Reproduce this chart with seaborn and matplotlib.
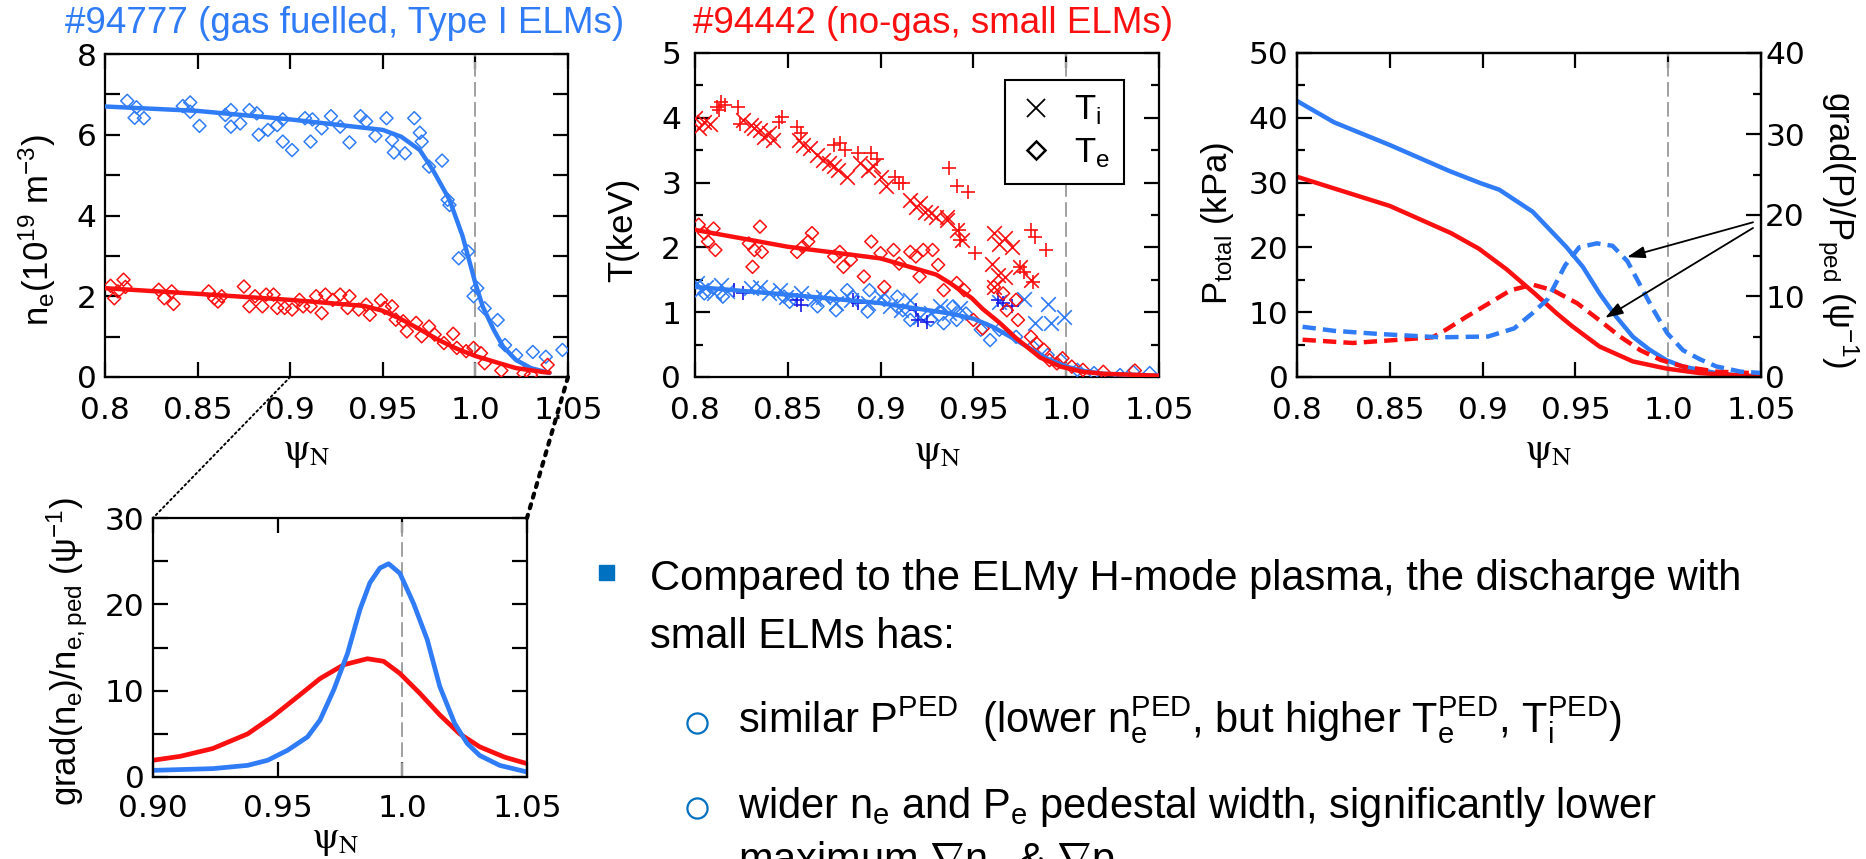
"""
Pedestal comparison: gas fuelled Type I ELMs (#94777) vs no-gas small ELMs (#94442)
Four panels (n_e, T, P / grad P, zoomed grad n_e) plus the slide's bullet text.
"""

import matplotlib
matplotlib.use("Agg")
import matplotlib.pyplot as plt
from matplotlib import font_manager
from matplotlib.lines import Line2D
from matplotlib.patches import ConnectionPatch
from matplotlib.ticker import FixedLocator
import seaborn as sns

# ---------- data ----------
# panel 1: electron density (10^19 m^-3)
NE_GAS_FIT_X = [0.80, 0.85, 0.90, 0.95, 0.96, 0.97, 0.977, 0.986, 0.993, 1.000,
                1.004, 1.010, 1.015, 1.022, 1.030, 1.040]
NE_GAS_FIT_Y = [6.70, 6.59, 6.38, 6.12, 5.95, 5.62, 5.13, 4.39, 3.50, 2.32,
                1.74, 1.16, 0.75, 0.42, 0.22, 0.10]
NE_NOGAS_FIT_X = [0.80, 0.85, 0.90, 0.94, 0.95, 0.96, 0.97, 0.98, 0.99, 1.00,
                  1.013, 1.022, 1.037, 1.040]
NE_NOGAS_FIT_Y = [2.20, 2.06, 1.91, 1.76, 1.64, 1.43, 1.18, 0.92, 0.70, 0.52,
                  0.34, 0.22, 0.12, 0.11]
NE_GAS_X = [0.812, 0.816, 0.817, 0.821, 0.842, 0.846, 0.846, 0.851, 0.865, 0.868,
            0.868, 0.873, 0.878, 0.882, 0.883, 0.888, 0.893, 0.896, 0.896, 0.901,
            0.908, 0.912, 0.911, 0.917, 0.922, 0.927, 0.932, 0.938, 0.941, 0.946,
            0.952, 0.955, 0.956, 0.962, 0.967, 0.970, 0.971, 0.975, 0.982, 0.985,
            0.986, 0.991, 0.996, 0.999, 1.001, 1.005, 1.012, 1.016, 1.022, 1.031,
            1.038, 1.047]
NE_GAS_Y = [6.84, 6.42, 6.68, 6.41, 6.71, 6.80, 6.57, 6.22, 6.49, 6.61,
            6.20, 6.28, 6.61, 6.53, 6.00, 6.12, 6.24, 6.38, 5.83, 5.62,
            6.41, 6.38, 5.83, 6.16, 6.46, 6.20, 5.81, 6.46, 6.33, 5.97,
            6.41, 5.87, 5.56, 5.54, 6.41, 6.05, 5.83, 5.21, 5.36, 4.39,
            4.26, 2.94, 3.11, 2.00, 2.20, 1.70, 1.41, 0.79, 0.54, 0.62,
            0.50, 0.67]
NE_NOGAS_X = [0.803, 0.805, 0.807, 0.810, 0.811, 0.829, 0.832, 0.836, 0.837, 0.856,
              0.859, 0.861, 0.863, 0.875, 0.878, 0.881, 0.885, 0.887, 0.891, 0.893,
              0.897, 0.901, 0.905, 0.907, 0.911, 0.914, 0.917, 0.919, 0.923, 0.927,
              0.931, 0.932, 0.937, 0.941, 0.943, 0.949, 0.951, 0.955, 0.957, 0.961,
              0.963, 0.968, 0.971, 0.975, 0.978, 0.983, 0.988, 0.990, 0.995, 0.999,
              1.003, 1.005, 1.014, 1.026, 1.030, 1.039]
NE_NOGAS_Y = [2.26, 1.95, 2.12, 2.41, 2.23, 2.16, 1.95, 2.12, 1.81, 2.12,
              1.95, 1.87, 2.00, 2.24, 1.75, 2.00, 1.75, 2.04, 2.04, 1.71,
              1.71, 1.67, 1.91, 1.75, 1.75, 2.00, 1.58, 2.04, 1.91, 2.04,
              1.71, 2.00, 1.67, 1.79, 1.54, 1.90, 1.71, 1.75, 1.42, 1.38,
              1.13, 1.34, 1.01, 1.25, 1.05, 0.84, 1.07, 0.72, 0.64, 0.72,
              0.59, 0.34, 0.16, 0.09, 0.05, 0.30]

# panel 2: temperatures (keV)
TE_GAS_FIT_X = [0.80, 0.85, 0.90, 0.9374, 0.95, 0.96, 0.97, 0.98, 0.99, 1.00,
                1.01, 1.02, 1.05]
TE_GAS_FIT_Y = [1.39, 1.27, 1.14, 0.98, 0.90, 0.78, 0.62, 0.45, 0.28, 0.16,
                0.09, 0.05, 0.02]
TE_NOGAS_FIT_X = [0.80, 0.85, 0.90, 0.93, 0.9374, 0.949, 0.955, 0.964, 0.973, 0.986,
                  0.997, 1.009, 1.020, 1.050]
TE_NOGAS_FIT_Y = [2.27, 2.01, 1.83, 1.58, 1.45, 1.22, 1.05, 0.84, 0.60, 0.30,
                  0.16, 0.08, 0.05, 0.02]
TI_NOGAS_X = [0.800, 0.802, 0.805, 0.808, 0.826, 0.830, 0.832, 0.835, 0.837, 0.840,
              0.842, 0.856, 0.858, 0.862, 0.866, 0.869, 0.872, 0.875, 0.877, 0.882,
              0.889, 0.893, 0.896, 0.900, 0.903, 0.916, 0.919, 0.921, 0.924, 0.927,
              0.930, 0.936, 0.936, 0.941, 0.944, 0.961, 0.964, 0.967, 0.971, 0.960,
              0.963, 0.961, 0.967, 0.975, 0.981]
TI_NOGAS_Y = [3.99, 3.84, 3.94, 3.90, 3.97, 3.89, 3.84, 3.81, 3.71, 3.76,
              3.66, 3.66, 3.58, 3.53, 3.43, 3.35, 3.30, 3.25, 3.19, 3.09,
              3.30, 3.19, 3.25, 3.09, 2.94, 2.73, 2.63, 2.68, 2.55, 2.53,
              2.47, 2.42, 2.47, 2.27, 2.11, 2.22, 2.06, 2.14, 2.01, 1.75,
              1.57, 1.39, 1.55, 1.70, 1.50]
TI2_NOGAS_X = [0.812, 0.814, 0.813, 0.816, 0.823, 0.824, 0.845, 0.847, 0.855, 0.857,
               0.875, 0.878, 0.881, 0.888, 0.895, 0.898, 0.908, 0.910, 0.912, 0.937,
               0.941, 0.947, 0.942, 0.943, 0.951, 0.981, 0.983, 0.989, 0.975, 0.977,
               0.982]
TI2_NOGAS_Y = [4.17, 4.25, 4.12, 4.20, 4.17, 3.91, 3.94, 4.02, 3.86, 3.76,
               3.58, 3.61, 3.50, 3.45, 3.45, 3.37, 3.09, 2.99, 2.99, 3.22,
               2.94, 2.86, 2.27, 2.11, 1.91, 2.27, 2.16, 1.96, 1.70, 1.62,
               1.47]
TE_NOGAS_X = [0.802, 0.805, 0.810, 0.807, 0.811, 0.829, 0.832, 0.835, 0.836, 0.831,
              0.855, 0.858, 0.861, 0.863, 0.875, 0.878, 0.880, 0.884, 0.891, 0.895,
              0.900, 0.902, 0.907, 0.910, 0.916, 0.919, 0.921, 0.923, 0.928, 0.931,
              0.934, 0.941, 0.945, 0.950, 0.955, 0.961, 0.966, 0.973, 0.974, 0.968,
              0.981, 0.984, 0.988, 0.991, 0.995, 0.998, 1.003, 1.009, 1.020, 1.037]
TE_NOGAS_Y = [2.35, 2.22, 2.29, 2.09, 1.96, 2.06, 1.96, 2.32, 1.93, 1.70,
              1.93, 2.01, 2.09, 2.22, 1.86, 1.93, 1.70, 1.81, 1.55, 2.09,
              1.91, 1.39, 1.96, 1.75, 1.93, 1.86, 1.55, 1.96, 1.96, 1.73,
              1.34, 1.45, 1.34, 0.88, 0.75, 1.39, 1.29, 1.19, 0.88, 1.03,
              0.62, 0.52, 0.42, 0.26, 0.21, 0.29, 0.16, 0.11, 0.08, 0.10]
TI_GAS_X = [0.801, 0.803, 0.806, 0.810, 0.814, 0.817, 0.830, 0.835, 0.840, 0.846,
            0.849, 0.857, 0.864, 0.869, 0.876, 0.884, 0.893, 0.900, 0.905, 0.911,
            0.916, 0.921, 0.927, 0.932, 0.937, 0.943, 0.964, 0.977, 0.983, 0.990,
            0.992, 0.999]
TI_GAS_Y = [1.45, 1.34, 1.39, 1.29, 1.42, 1.32, 1.37, 1.39, 1.29, 1.34,
            1.24, 1.29, 1.21, 1.24, 1.14, 1.19, 1.14, 1.24, 1.09, 1.03,
            1.19, 0.93, 0.98, 1.09, 0.98, 1.06, 1.16, 1.21, 0.83, 1.13,
            0.83, 0.93]
TE_GAS_X = [0.805, 0.815, 0.848, 0.851, 0.866, 0.873, 0.876, 0.882, 0.885, 0.893,
            0.894, 0.902, 0.909, 0.912, 0.916, 0.927, 0.934, 0.939, 0.941, 0.946,
            0.954, 0.959, 0.964, 0.973, 0.982, 0.990, 0.997, 1.006, 1.015, 1.029,
            1.036, 1.045]
TE_GAS_Y = [1.29, 1.24, 1.24, 1.16, 1.09, 1.24, 1.03, 1.34, 1.24, 1.01,
            1.34, 1.19, 1.24, 1.03, 0.88, 0.88, 0.83, 1.09, 0.88, 0.98,
            0.73, 0.57, 0.73, 0.62, 0.47, 0.34, 0.26, 0.11, 0.06, 0.03,
            0.08, 0.06]
TI2_GAS_X = [0.821, 0.826, 0.855, 0.857, 0.885, 0.888, 0.919, 0.920, 0.925, 0.963,
             0.966, 0.971]
TI2_GAS_Y = [1.34, 1.29, 1.19, 1.11, 1.19, 1.14, 1.03, 0.88, 0.85, 1.19,
             1.14, 1.09]

# panel 3: total pressure (kPa, left) and grad(P)/P_ped (right)
P_GAS_X = [0.800, 0.820, 0.850, 0.882, 0.899, 0.909, 0.927, 0.945, 0.954, 0.963,
           0.972, 0.981, 0.990, 0.999, 1.008, 1.026, 1.042, 1.050]
P_GAS_Y = [42.6, 39.3, 35.8, 31.8, 29.9, 28.9, 25.5, 20.1, 17.0, 12.9,
           9.3, 6.2, 4.2, 2.6, 1.6, 0.6, 0.1, 0.05]
P_NOGAS_X = [0.800, 0.850, 0.883, 0.898, 0.913, 0.928, 0.940, 0.948, 0.963, 0.981,
             0.999, 1.017, 1.035, 1.050]
P_NOGAS_Y = [30.9, 26.4, 22.2, 19.8, 16.6, 12.9, 9.8, 7.9, 4.7, 2.4,
             1.3, 0.6, 0.3, 0.1]
GRADP_GAS_X = [0.803, 0.820, 0.845, 0.877, 0.903, 0.917, 0.927, 0.935, 0.9445, 0.952,
               0.9615, 0.970, 0.978, 0.985, 0.992, 0.9995, 1.008, 1.017, 1.026, 1.039,
               1.050]
GRADP_GAS_Y = [6.2, 5.7, 5.3, 4.9, 5.0, 6.0, 7.9, 9.6, 13.8, 16.0,
               16.5, 16.2, 14.3, 11.3, 8.3, 5.4, 3.3, 2.2, 1.3, 0.66,
               0.5]
GRADP_NOGAS_X = [0.803, 0.830, 0.855, 0.873, 0.880, 0.891, 0.902, 0.915, 0.927, 0.938,
                 0.951, 0.963, 0.974, 0.985, 0.996, 1.008, 1.026, 1.050]
GRADP_NOGAS_Y = [4.6, 4.2, 4.6, 4.9, 5.8, 7.4, 8.9, 10.7, 11.4, 10.7,
                 9.1, 7.0, 5.0, 3.3, 2.1, 1.3, 0.66, 0.45]
ARROW_TAILS = [(1.0457, 19.1), (1.0457, 18.4)]
ARROW_HEADS = [(0.9778, 14.8), (0.966, 7.3)]

# panel 4: grad(n_e)/n_e,ped zoom
GRADN_GAS_X = [0.900, 0.924, 0.938, 0.946, 0.954, 0.962, 0.967, 0.9725, 0.978, 0.983,
               0.987, 0.991, 0.9945, 0.999, 1.0045, 1.010, 1.015, 1.021, 1.026, 1.031,
               1.039, 1.050]
GRADN_GAS_Y = [0.77, 0.97, 1.35, 1.94, 3.1, 4.65, 6.6, 10.1, 14.3, 19.4,
               22.5, 24.2, 24.7, 23.6, 20.1, 15.9, 10.5, 6.2, 3.9, 2.5,
               1.35, 0.58]
GRADN_NOGAS_X = [0.900, 0.911, 0.924, 0.938, 0.948, 0.958, 0.967, 0.9765, 0.986, 0.9925,
                 0.999, 1.007, 1.015, 1.023, 1.031, 1.041, 1.050]
GRADN_NOGAS_Y = [1.94, 2.4, 3.3, 5.0, 7.0, 9.3, 11.4, 13.0, 13.7, 13.4,
                 12.0, 9.7, 7.2, 5.0, 3.5, 2.3, 1.55]

# axes ticks / labels
PSI_TICKS = [0.80, 0.85, 0.90, 0.95, 1.00, 1.05]
PSI_TICK_LABELS = ["0.8", "0.85", "0.9", "0.95", "1.0", "1.05"]
ZOOM_TICKS = [0.90, 0.95, 1.00, 1.05]
ZOOM_TICK_LABELS = ["0.90", "0.95", "1.0", "1.05"]
SEPARATRIX = 1.0

TITLE_GAS = "#94777 (gas fuelled, Type I ELMs)"
TITLE_NOGAS = "#94442 (no-gas, small ELMs)"
BULLET_LINES = ["Compared to the ELMy H-mode plasma, the discharge with",
                "small ELMs has:"]
SUB_LINES = [r"similar P$^{\mathrm{PED}}$  (lower n$_{\mathrm{e}}^{\mathrm{PED}}$, but higher "
             r"T$_{\mathrm{e}}^{\mathrm{PED}}$, T$_{\mathrm{i}}^{\mathrm{PED}}$)",
             r"wider n$_{\mathrm{e}}$ and P$_{\mathrm{e}}$ pedestal width, significantly lower",
             r"maximum $\nabla$n$_{\mathrm{e}}$ & $\nabla$p$_{\mathrm{e}}$"]

BLUE = "#2f7cf6"
RED = "#fa1010"
NAVY = "#1a1ae6"
GREY = "#a0a0a0"
BULLET = "#0070c0"

W, H = 1866, 859
TICK_SIZE = 22.5
TICK_FONT = "DejaVu Sans"
LABEL_SIZE = 25
PSI_LABEL = r"$\mathrm{\psi_N}$"

AVAILABLE = {f.name for f in font_manager.fontManager.ttflist}
NARROW = "Liberation Sans Narrow" in AVAILABLE
BODY_FONT = "Liberation Sans Narrow" if NARROW else "Liberation Sans"
BODY_SIZE = 36 if NARROW else 30


def px_axes(fig, left, top, right, bottom):
    return fig.add_axes([left / W, 1 - bottom / H, (right - left) / W, (bottom - top) / H])


def style_axes(ax, yticks, yminor, xticks, xlabels, xpad, ypad, minor_len, right=True):
    ax.set_xticks(xticks, xlabels)
    ax.set_yticks(yticks, [f"{t:g}" for t in yticks])
    ax.yaxis.set_minor_locator(FixedLocator(yminor))
    ax.tick_params(which="both", direction="in", top=True, right=right, left=True,
                   width=1.6, colors="black", labelsize=TICK_SIZE, labelfontfamily=TICK_FONT)
    ax.tick_params(which="major", length=11)
    ax.tick_params(which="minor", length=minor_len)
    ax.tick_params(axis="x", pad=xpad)
    ax.tick_params(axis="y", pad=ypad)
    for sp in ax.spines.values():
        sp.set_visible(True)
        sp.set_linewidth(1.6)
        sp.set_color("black")
    ax.axvline(SEPARATRIX, color=GREY, lw=1.4, dashes=(7.5, 2.8), zorder=1)


def put_xlabel(ax, x, y):
    ax.set_xlabel(PSI_LABEL, fontsize=27, math_fontfamily="stix")
    ax.xaxis.set_label_coords(x, y)
    ax.xaxis.label.set_va("center")


def put_ylabel(ax, text, x, y, rotation=90):
    ax.set_ylabel(text, fontsize=LABEL_SIZE, rotation=rotation)
    ax.yaxis.set_label_coords(x, y)
    ax.yaxis.label.set_va("center")
    ax.yaxis.label.set_ha("center")


def line(ax, x, y, color, lw=3.2, **kw):
    sns.lineplot(x=x, y=y, color=color, lw=lw, sort=False, estimator=None, ax=ax, **kw)


def diamonds(ax, x, y, color):
    sns.scatterplot(x=x, y=y, marker="D", s=44, facecolor="none", edgecolor=color,
                    color=color, linewidth=1.1, ax=ax, zorder=3)


def crosses(ax, x, y, color, marker="x"):
    sns.scatterplot(x=x, y=y, marker=marker, s=110, color=color, linewidth=1.2, ax=ax, zorder=3)


def main():
    sns.set_theme(style="ticks", rc={"axes.facecolor": "white", "figure.facecolor": "white",
                                     "text.color": "black", "axes.labelcolor": "black"})
    plt.rcParams["font.family"] = ["Liberation Sans", "DejaVu Sans"]
    plt.rcParams["mathtext.fontset"] = "custom"
    plt.rcParams["mathtext.rm"] = BODY_FONT
    plt.rcParams["mathtext.it"] = BODY_FONT + ":italic"
    plt.rcParams["mathtext.bf"] = BODY_FONT + ":bold"
    plt.rcParams["mathtext.sf"] = "Liberation Sans"

    fig = plt.figure(figsize=(W / 100, H / 100), dpi=100)
    ax1 = px_axes(fig, 105, 54, 568, 377)
    ax2 = px_axes(fig, 695, 53, 1159, 377)
    ax3 = px_axes(fig, 1297, 53, 1761, 377)
    ax4 = px_axes(fig, 153, 518, 527, 777)

    # ---- panel 1: density ----
    diamonds(ax1, NE_GAS_X, NE_GAS_Y, BLUE)
    diamonds(ax1, NE_NOGAS_X, NE_NOGAS_Y, RED)
    line(ax1, NE_GAS_FIT_X, NE_GAS_FIT_Y, BLUE, zorder=4)
    line(ax1, NE_NOGAS_FIT_X, NE_NOGAS_FIT_Y, RED, zorder=4)
    ax1.set_xlim(0.8, 1.05)
    ax1.set_ylim(0, 8)
    style_axes(ax1, [0, 2, 4, 6, 8], [1, 3, 5, 7], PSI_TICKS, PSI_TICK_LABELS, 14, 6, 11)
    put_ylabel(ax1, r"n$_\mathsf{e}$(10$^\mathsf{19}$ m$^\mathsf{-3}$)", -0.147, 0.455)
    put_xlabel(ax1, 0.436, -0.232)

    # ---- panel 2: temperatures ----
    diamonds(ax2, TE_GAS_X, TE_GAS_Y, BLUE)
    crosses(ax2, TI_GAS_X, TI_GAS_Y, BLUE)
    crosses(ax2, TI2_GAS_X, TI2_GAS_Y, NAVY, marker="+")
    crosses(ax2, TI_NOGAS_X, TI_NOGAS_Y, RED)
    crosses(ax2, TI2_NOGAS_X, TI2_NOGAS_Y, RED, marker="+")
    diamonds(ax2, TE_NOGAS_X, TE_NOGAS_Y, RED)
    line(ax2, TE_GAS_FIT_X, TE_GAS_FIT_Y, BLUE, zorder=4)
    line(ax2, TE_NOGAS_FIT_X, TE_NOGAS_FIT_Y, RED, zorder=4)
    ax2.set_xlim(0.8, 1.05)
    ax2.set_ylim(0, 5)
    style_axes(ax2, [0, 1, 2, 3, 4, 5], [0.5, 1.5, 2.5, 3.5, 4.5], PSI_TICKS, PSI_TICK_LABELS,
               14, 10, 5.5)
    put_ylabel(ax2, "T(keV)", -0.155, 0.454)
    put_xlabel(ax2, 0.522, -0.235)
    handles = [Line2D([], [], ls="none", marker="x", color="black", markersize=13, mew=1.3),
               Line2D([], [], ls="none", marker="D", mfc="none", mec="black", markersize=9, mew=1.8)]
    leg = ax2.legend(handles, [r"T$_\mathsf{i}$", r"T$_\mathsf{e}$"], loc="upper left",
                     bbox_to_anchor=(0.668, 0.917), borderaxespad=0, fontsize=25,
                     frameon=True, fancybox=False, framealpha=1, edgecolor="black",
                     handlelength=1.0, handletextpad=0.6, borderpad=0.4, labelspacing=0.25)
    leg.get_frame().set_linewidth(1.5)
    leg.set_zorder(6)

    # ---- panel 3: pressure and its gradient ----
    ax3r = ax3.twinx()
    line(ax3, P_GAS_X, P_GAS_Y, BLUE)
    line(ax3, P_NOGAS_X, P_NOGAS_Y, RED)
    line(ax3r, GRADP_NOGAS_X, GRADP_NOGAS_Y, RED, linestyle=(0, (3, 1.6)))
    line(ax3r, GRADP_GAS_X, GRADP_GAS_Y, BLUE, linestyle=(0, (3, 1.6)))
    ax3.set_xlim(0.8, 1.05)
    ax3.set_ylim(0, 50)
    ax3r.set_ylim(0, 40)
    style_axes(ax3, [0, 10, 20, 30, 40, 50], [5, 15, 25, 35, 45], PSI_TICKS, PSI_TICK_LABELS,
               14, 6, 5.5, right=False)
    ax3r.set_yticks([0, 10, 20, 30, 40], ["0", "10", "20", "30", "40"])
    ax3r.yaxis.set_minor_locator(FixedLocator([5, 15, 25, 35]))
    ax3r.tick_params(which="both", direction="in", right=True, left=False, width=1.6,
                     colors="black", labelsize=TICK_SIZE, labelfontfamily=TICK_FONT, pad=3)
    ax3r.tick_params(which="major", length=11)
    ax3r.tick_params(which="minor", length=5.5)
    for sp in ax3r.spines.values():
        sp.set_linewidth(1.6)
        sp.set_color("black")
    for tail, head in zip(ARROW_TAILS, ARROW_HEADS):
        ax3r.annotate("", xy=head, xytext=tail,
                      arrowprops=dict(arrowstyle="-|>,head_length=0.9,head_width=0.3",
                                      color="black", lw=1.3, mutation_scale=12,
                                      shrinkA=0, shrinkB=0))
    put_ylabel(ax3, r"P$_\mathsf{total}$ (kPa)", -0.172, 0.475)
    put_ylabel(ax3r, r"grad(P)/P$_\mathsf{ped}$ ($\mathsf{\psi}^\mathsf{-1}$)", 1.166, 0.454,
               rotation=270)
    put_xlabel(ax3, 0.543, -0.232)

    # ---- panel 4: zoomed density gradient ----
    line(ax4, GRADN_NOGAS_X, GRADN_NOGAS_Y, RED, lw=3.4)
    line(ax4, GRADN_GAS_X, GRADN_GAS_Y, BLUE, lw=3.4)
    ax4.set_xlim(0.9, 1.05)
    ax4.set_ylim(0, 30)
    style_axes(ax4, [0, 10, 20, 30], [5, 15, 25], ZOOM_TICKS, ZOOM_TICK_LABELS, 12, 6, 11)
    put_ylabel(ax4, r"grad(n$_\mathsf{e}$)/n$_\mathsf{e,ped}$ ($\mathsf{\psi}^\mathsf{-1}$)",
               -0.23, 0.483)
    put_xlabel(ax4, 0.489, -0.243)

    # dotted zoom connectors from panel 1 to panel 4
    for xa, lw in ((ZOOM_TICKS[0], 1.4), (ZOOM_TICKS[-1], 3.0)):
        con = ConnectionPatch(xyA=(xa, 0), coordsA=ax1.transData, xyB=(xa, 30),
                              coordsB=ax4.transData, color="black", lw=lw, linestyle=":")
        fig.add_artist(con)

    # titles
    fig.text(65 / W, 1 - 33 / H, TITLE_GAS, color=BLUE, fontsize=26.5, va="baseline")
    fig.text(693 / W, 1 - 33 / H, TITLE_NOGAS, color=RED, fontsize=26.5, va="baseline")

    # bullet text
    fam = [BODY_FONT, "DejaVu Sans"]
    fig.add_artist(Line2D([605.5 / W], [1 - 571.5 / H], ls="none", marker="s", markersize=10.8,
                          color=BULLET, transform=fig.transFigure))
    for text, base in zip(BULLET_LINES, (590, 648)):
        fig.text(650 / W, 1 - base / H, text, fontsize=BODY_SIZE, family=fam, va="baseline")
    for cy in (723, 808):
        fig.add_artist(Line2D([697 / W], [1 - cy / H], ls="none", marker="o", markersize=14.5,
                              mfc="none", mec=BULLET, mew=1.6, transform=fig.transFigure))
    for text, base in zip(SUB_LINES, (733, 818, 872)):
        fig.text(738 / W, 1 - base / H, text, fontsize=BODY_SIZE, family=fam, va="baseline")

    fig.savefig("out.png", dpi=100)
    plt.close(fig)


if __name__ == "__main__":
    main()
